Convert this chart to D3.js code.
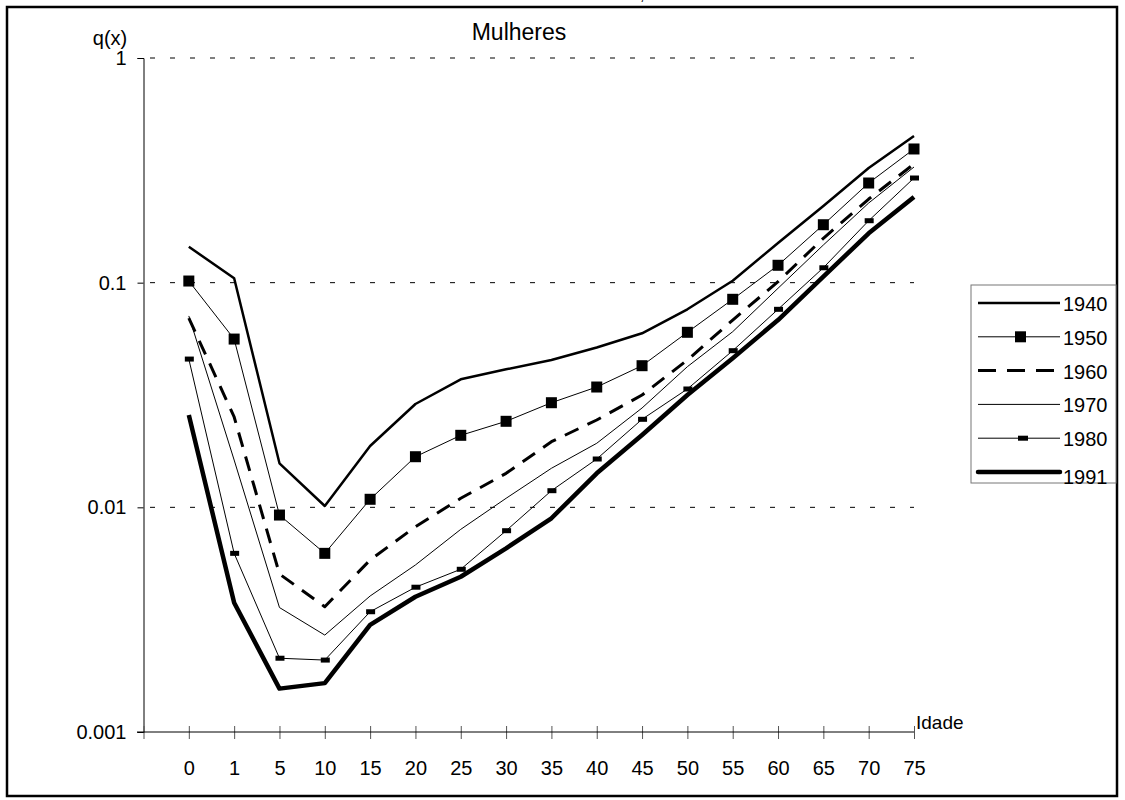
<!DOCTYPE html>
<html>
<head>
<meta charset="utf-8">
<script src="https://cdn.jsdelivr.net/npm/d3@7"></script>
<style>
  html, body { margin: 0; padding: 0; background: #fff; }
  svg { display: block; font-family: "Liberation Sans", Arial, sans-serif; }
</style>
</head>
<body>
<svg id="chart" width="1125" height="800"></svg>
<script>
// Age groups (x categories)
const ages = ["0", "1", "5", "10", "15", "20", "25", "30", "35", "40", "45", "50", "55", "60", "65", "70", "75"];

// Probability of death q(x) by age, women
const q1940 = [0.1445, 0.1046, 0.0157, 0.01014, 0.01875, 0.02884, 0.03715, 0.04115, 0.04525, 0.05145, 0.05951, 0.0761, 0.102, 0.1502, 0.2195, 0.3238, 0.4496];
const q1950 = [0.1017, 0.0561, 0.00924, 0.00624, 0.01086, 0.0168, 0.02092, 0.02415, 0.02922, 0.03432, 0.0427, 0.06013, 0.08433, 0.1195, 0.1811, 0.2777, 0.3936];
const q1960 = [0.0696, 0.02524, 0.00505, 0.00361, 0.00583, 0.0082, 0.01097, 0.01417, 0.0196, 0.02447, 0.03162, 0.04525, 0.0682, 0.101, 0.1576, 0.2357, 0.3374];
const q1970 = [0.0711, 0.01624, 0.00358, 0.0027, 0.00403, 0.00554, 0.00798, 0.01097, 0.01492, 0.01928, 0.02768, 0.04227, 0.0605, 0.0944, 0.1471, 0.2262, 0.3272];
const q1980 = [0.0457, 0.00624, 0.00213, 0.00209, 0.00343, 0.00441, 0.0053, 0.00787, 0.01186, 0.01641, 0.02465, 0.03363, 0.0498, 0.0761, 0.1165, 0.1887, 0.2923];
const q1991 = [0.02576, 0.00376, 0.00156, 0.00165, 0.003, 0.004, 0.00491, 0.00657, 0.00894, 0.01417, 0.02099, 0.03162, 0.04607, 0.0682, 0.1063, 0.1659, 0.2406];

const seriesNames = ["1940", "1950", "1960", "1970", "1980", "1991"];
const yTicks = [0.001, 0.01, 0.1, 1];
const yTickLabels = ["0.001", "0.01", "0.1", "1"];

const series = [
  { name: "1940", values: q1940, width: 2.5, dash: null, marker: null },
  { name: "1950", values: q1950, width: 1, dash: null, marker: "square" },
  { name: "1960", values: q1960, width: 3, dash: "15,10", marker: null },
  { name: "1970", values: q1970, width: 1, dash: null, marker: null },
  { name: "1980", values: q1980, width: 1, dash: null, marker: "bar" },
  { name: "1991", values: q1991, width: 4.5, dash: null, marker: null }
];

const svg = d3.select("#chart");

// outer frame
svg.append("rect")
  .attr("x", 7).attr("y", 7).attr("width", 1110).attr("height", 789)
  .attr("fill", "none").attr("stroke", "#000").attr("stroke-width", 2.5);

// heading above the frame, mostly outside the page
svg.append("text").attr("x", 640).attr("y", 0).attr("font-size", 16).text(",");

// scales: blank slot at the origin so the first age sits one step right of the y axis
const x = d3.scalePoint().domain([""].concat(ages)).range([143.5, 914]).padding(0);
const y = d3.scaleLog().domain([0.001, 1]).range([732, 58]);

// horizontal dashed gridlines
svg.append("g").selectAll("line")
  .data(yTicks.slice(1))
  .join("line")
  .attr("x1", 150).attr("x2", 914)
  .attr("y1", d => y(d)).attr("y2", d => y(d))
  .attr("stroke", "#000").attr("stroke-width", 1)
  .attr("stroke-dasharray", "5,15");

// y axis
const yAxis = d3.axisLeft(y)
  .tickValues(yTicks)
  .tickFormat((d, i) => yTickLabels[i])
  .tickSize(6).tickPadding(11);
const gy = svg.append("g").attr("transform", "translate(143.5,0)").call(yAxis);
gy.select(".domain").attr("stroke", "#000");
gy.selectAll(".tick line").attr("stroke", "#000");
gy.selectAll(".tick text").attr("font-size", 20).attr("fill", "#000")
  .attr("font-family", "Liberation Sans, Arial, sans-serif");

// x axis (ticks cross the axis line)
const xAxis = d3.axisBottom(x).tickSize(0).tickFormat(d => d);
const gx = svg.append("g").attr("transform", "translate(0,732)").call(xAxis);
gx.select(".domain").remove();
gx.append("line").attr("x1", 137).attr("x2", 914).attr("y1", 0).attr("y2", 0)
  .attr("stroke", "#000").attr("stroke-width", 1);
gx.selectAll(".tick").append("line")
  .attr("y1", -6).attr("y2", 7).attr("stroke", "#555").attr("stroke-width", 1);
gx.selectAll(".tick text").attr("font-size", 20).attr("fill", "#000")
  .attr("font-family", "Liberation Sans, Arial, sans-serif")
  .attr("dy", 0).attr("y", 43);

// axis titles and chart title
svg.append("text").attr("x", 110).attr("y", 45).attr("text-anchor", "middle")
  .attr("font-size", 20).text("q(x)");
svg.append("text").attr("x", 916).attr("y", 729)
  .attr("font-size", 19).text("Idade");
svg.append("text").attr("x", 519).attr("y", 40).attr("text-anchor", "middle")
  .attr("font-size", 23).text("Mulheres");

// series lines
const line = d3.line()
  .x((d, i) => x(ages[i]))
  .y(d => y(d));

const plot = svg.append("g");
series.forEach(s => {
  plot.append("path")
    .attr("d", line(s.values))
    .attr("fill", "none")
    .attr("stroke", "#000")
    .attr("stroke-width", s.width)
    .attr("stroke-linejoin", "round")
    .attr("stroke-dasharray", s.dash);
  if (s.marker === "square") {
    plot.append("g").selectAll("rect")
      .data(s.values).join("rect")
      .attr("x", (d, i) => x(ages[i]) - 5.5)
      .attr("y", d => y(d) - 5.5)
      .attr("width", 11).attr("height", 11).attr("fill", "#000");
  } else if (s.marker === "bar") {
    plot.append("g").selectAll("rect")
      .data(s.values).join("rect")
      .attr("x", (d, i) => x(ages[i]) - 4)
      .attr("y", d => y(d) - 2.5)
      .attr("width", 9).attr("height", 5).attr("fill", "#000");
  }
});

// legend
const legend = svg.append("g");
legend.append("rect")
  .attr("x", 971).attr("y", 285).attr("width", 145).attr("height", 198)
  .attr("fill", "#fff").attr("stroke", "#777").attr("stroke-width", 1);
const legendY = d3.scalePoint().domain(seriesNames).range([303, 472]);
series.forEach(s => {
  const ly = legendY(s.name);
  legend.append("line")
    .attr("x1", 978).attr("x2", 1060).attr("y1", ly).attr("y2", ly)
    .attr("stroke", "#000").attr("stroke-width", s.width)
    .attr("stroke-linecap", s.width > 4 ? "round" : "butt")
    .attr("stroke-dasharray", s.dash ? "18,11" : null);
  if (s.marker === "square") {
    legend.append("rect").attr("x", 1015).attr("y", ly - 5.5)
      .attr("width", 11).attr("height", 11).attr("fill", "#000");
  } else if (s.marker === "bar") {
    legend.append("rect").attr("x", 1018).attr("y", ly - 2.5)
      .attr("width", 10).attr("height", 5).attr("fill", "#000");
  }
  legend.append("text")
    .attr("x", 1063).attr("y", ly + (s.width > 4 ? 12 : 8))
    .attr("font-size", 20).text(s.name);
});
</script>
</body>
</html>
